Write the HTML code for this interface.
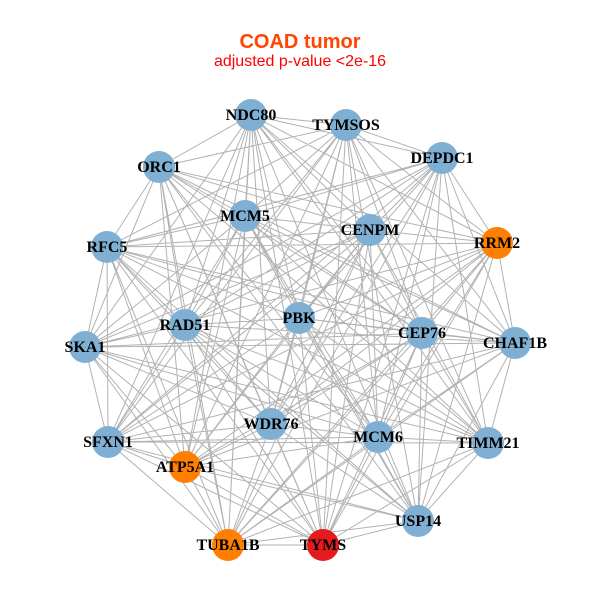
<!DOCTYPE html>
<html><head><meta charset="utf-8"><style>
html,body{margin:0;padding:0;background:#fff;}
svg{display:block;}
</style></head><body>
<svg width="600" height="600" viewBox="0 0 600 600" xmlns="http://www.w3.org/2000/svg">
<rect width="600" height="600" fill="#fff"/>
<text x="300" y="48" text-anchor="middle" font-family="Liberation Sans, sans-serif" font-weight="bold" font-size="20" fill="#ff4500">COAD tumor</text>
<text x="300" y="66" text-anchor="middle" font-family="Liberation Sans, sans-serif" font-size="16" fill="#ff0000">adjusted p-value &lt;2e-16</text>
<path fill="none" stroke="#b2b2b2" stroke-width="1" d="
M251,115L346,125M251,115L442,158M251,115L159,167M251,115L245,216M251,115L370,230M251,115L497,243M251,115L299,318M251,115L185,325M251,115L422,333M251,115L515,343M251,115L85,347M251,115L271,424M251,115L108,442M251,115L488,443M251,115L185,467M251,115L418,521M251,115L228,545M251,115L323,545
M346,125L442,158M346,125L159,167M346,125L245,216M346,125L497,243M346,125L107,247M346,125L299,318M346,125L185,325M346,125L422,333M346,125L515,343M346,125L271,424M346,125L378,437M346,125L108,442M346,125L488,443M346,125L185,467M346,125L418,521M346,125L323,545
M442,158L245,216M442,158L370,230M442,158L497,243M442,158L107,247M442,158L299,318M442,158L185,325M442,158L515,343M442,158L85,347M442,158L271,424M442,158L378,437M442,158L108,442M442,158L488,443M442,158L418,521M442,158L228,545M442,158L323,545
M159,167L245,216M159,167L370,230M159,167L497,243M159,167L107,247M159,167L185,325M159,167L422,333M159,167L515,343M159,167L85,347M159,167L271,424M159,167L378,437M159,167L488,443M159,167L185,467M159,167L418,521M159,167L228,545M159,167L323,545
M245,216L370,230M245,216L107,247M245,216L299,318M245,216L185,325M245,216L422,333M245,216L515,343M245,216L85,347M245,216L378,437M245,216L108,442M245,216L488,443M245,216L185,467M245,216L418,521M245,216L228,545
M370,230L497,243M370,230L107,247M370,230L299,318M370,230L185,325M370,230L422,333M370,230L85,347M370,230L271,424M370,230L378,437M370,230L108,442M370,230L488,443M370,230L185,467M370,230L228,545M370,230L323,545
M497,243L107,247M497,243L299,318M497,243L422,333M497,243L515,343M497,243L85,347M497,243L271,424M497,243L378,437M497,243L108,442M497,243L185,467M497,243L418,521M497,243L228,545M497,243L323,545
M107,247L299,318M107,247L185,325M107,247L422,333M107,247L515,343M107,247L85,347M107,247L271,424M107,247L108,442M107,247L488,443M107,247L185,467M107,247L418,521M107,247L228,545M107,247L323,545
M299,318L185,325M299,318L422,333M299,318L515,343M299,318L271,424M299,318L378,437M299,318L108,442M299,318L488,443M299,318L185,467M299,318L418,521M299,318L323,545
M185,325L515,343M185,325L85,347M185,325L271,424M185,325L378,437M185,325L108,442M185,325L488,443M185,325L418,521M185,325L228,545M185,325L323,545
M422,333L515,343M422,333L85,347M422,333L271,424M422,333L378,437M422,333L488,443M422,333L185,467M422,333L418,521M422,333L228,545M422,333L323,545
M515,343L85,347M515,343L378,437M515,343L108,442M515,343L488,443M515,343L185,467M515,343L418,521M515,343L228,545
M85,347L271,424M85,347L378,437M85,347L108,442M85,347L488,443M85,347L185,467M85,347L228,545M85,347L323,545
M271,424L378,437M271,424L108,442M271,424L185,467M271,424L418,521M271,424L228,545M271,424L323,545
M378,437L108,442M378,437L488,443M378,437L185,467M378,437L418,521M378,437L228,545M378,437L323,545
M108,442L488,443M108,442L185,467M108,442L418,521M108,442L228,545M108,442L323,545
M488,443L418,521M488,443L228,545M488,443L323,545
M185,467L418,521M185,467L228,545M185,467L323,545
M418,521L228,545M418,521L323,545
M228,545L323,545"/>
<g>
<circle cx="251" cy="115" r="16" fill="#7fb0d3"/>
<circle cx="346" cy="125" r="16" fill="#7fb0d3"/>
<circle cx="442" cy="158" r="16" fill="#7fb0d3"/>
<circle cx="159" cy="167" r="16" fill="#7fb0d3"/>
<circle cx="245" cy="216" r="16" fill="#7fb0d3"/>
<circle cx="370" cy="230" r="16" fill="#7fb0d3"/>
<circle cx="497" cy="243" r="16" fill="#ff7f00"/>
<circle cx="107" cy="247" r="16" fill="#7fb0d3"/>
<circle cx="299" cy="318" r="16" fill="#7fb0d3"/>
<circle cx="185" cy="325" r="16" fill="#7fb0d3"/>
<circle cx="422" cy="333" r="16" fill="#7fb0d3"/>
<circle cx="515" cy="343" r="16" fill="#7fb0d3"/>
<circle cx="85" cy="347" r="16" fill="#7fb0d3"/>
<circle cx="271" cy="424" r="16" fill="#7fb0d3"/>
<circle cx="378" cy="437" r="16" fill="#7fb0d3"/>
<circle cx="108" cy="442" r="16" fill="#7fb0d3"/>
<circle cx="488" cy="443" r="16" fill="#7fb0d3"/>
<circle cx="185" cy="467" r="16" fill="#ff7f00"/>
<circle cx="418" cy="521" r="16" fill="#7fb0d3"/>
<circle cx="228" cy="545" r="16" fill="#ff7f00"/>
<circle cx="323" cy="545" r="16" fill="#e41a1c"/>
</g>
<g font-family="Liberation Serif, serif" font-weight="bold" font-size="16" fill="#000" text-anchor="middle">
<text x="251" y="120">NDC80</text>
<text x="346" y="130">TYMSOS</text>
<text x="442" y="163">DEPDC1</text>
<text x="159" y="172">ORC1</text>
<text x="245" y="221">MCM5</text>
<text x="370" y="235">CENPM</text>
<text x="497" y="248">RRM2</text>
<text x="107" y="252">RFC5</text>
<text x="299" y="323">PBK</text>
<text x="185" y="330">RAD51</text>
<text x="422" y="338">CEP76</text>
<text x="515" y="348">CHAF1B</text>
<text x="85" y="352">SKA1</text>
<text x="271" y="429">WDR76</text>
<text x="378" y="442">MCM6</text>
<text x="108" y="447">SFXN1</text>
<text x="488" y="448">TIMM21</text>
<text x="185" y="472">ATP5A1</text>
<text x="418" y="526">USP14</text>
<text x="228" y="550">TUBA1B</text>
<text x="323" y="550">TYMS</text>
</g>
</svg>
</body></html>
